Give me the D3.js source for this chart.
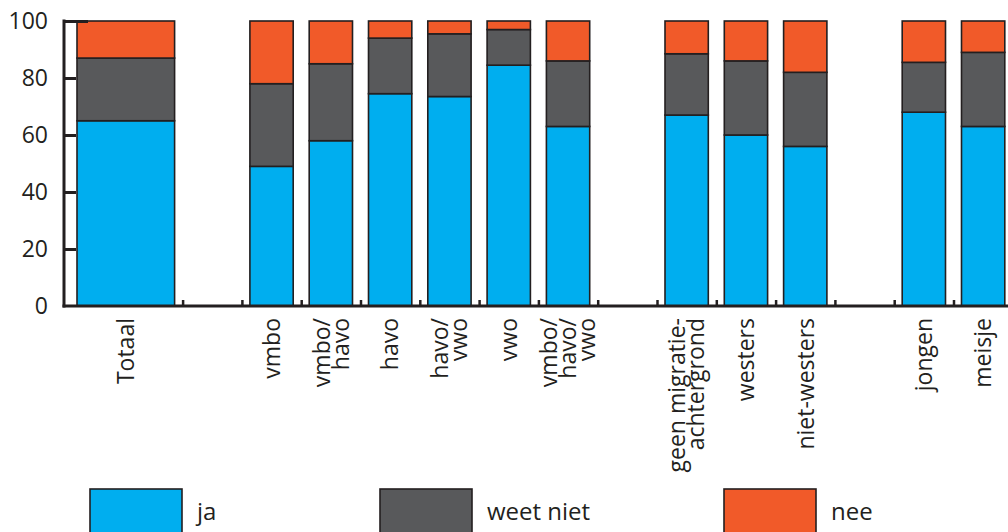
<!DOCTYPE html>
<html>
<head>
<meta charset="utf-8">
<script src="https://cdn.jsdelivr.net/npm/d3@7"></script>
<style>
  html, body { margin: 0; padding: 0; background: #fff; overflow: hidden; }
  svg { display: block; font-family: "Open Sans", "Noto Sans", sans-serif; }
</style>
</head>
<body>
<svg id="chart" width="1008" height="532"></svg>
<script>
// ---- data ----
const categories = ["Totaal","vmbo","vmbo/havo","havo","havo/vwo","vwo","vmbo/havo/vwo",
  "geen migratieachtergrond","westers","niet-westers","jongen","meisje"];
const tickLabels = ["Totaal","vmbo","vmbo/\nhavo","havo","havo/\nvwo","vwo","vmbo/\nhavo/\nvwo",
  "geen migratie-\nachtergrond","westers","niet-westers","jongen","meisje"];
const groupIndex = [0,1,1,1,1,1,1,2,2,2,3,3];
const ja       = [65, 49, 58, 74.5, 73.5, 84.5, 63, 67,   60, 56, 68,   63];
const weetNiet = [22, 29, 27, 19.5, 22,   12.5, 23, 21.5, 26, 26, 17.5, 26];
const nee      = [13, 22, 15, 6,    4.5,  3,    14, 11.5, 14, 18, 14.5, 11];
const seriesNames = ["ja","weet niet","nee"];
const yTicks = [0,20,40,60,80,100];

// ---- styles ----
const colors = {"ja":"#00aeef","weet niet":"#58595b","nee":"#f15a29"};
const ink = "#231f20";

// ---- layout: slots (Totaal spans two, one empty slot between groups) ----
const slotStart = [], slotSpan = [];
let s = 0;
categories.forEach((c,i) => {
  if (i > 0 && groupIndex[i] !== groupIndex[i-1]) s += 1;
  const span = i === 0 ? 2 : 1;
  slotStart.push(s); slotSpan.push(span); s += span;
});
const nSlots = s; // 16
const slotW = 59.3;
const x0 = 64;
const x = d3.scaleLinear().domain([0, nSlots]).range([x0, x0 + nSlots * slotW]);
const y = d3.scaleLinear().domain([0, 100]).range([306, 21]);

const rows = categories.map((c,i) => ({cat:c, i, "ja":ja[i], "weet niet":weetNiet[i], "nee":nee[i]}));
const stack = d3.stack().keys(seriesNames)(rows);

const svg = d3.select("#chart");

// bars
const pad = 8;
function barX(i){ return x(slotStart[i]) + pad + (slotSpan[i] > 1 ? 5 : 0); }
function barW(i){ return x(slotStart[i] + slotSpan[i]) - pad - barX(i); }

svg.append("g").selectAll("g").data(stack).join("g")
  .attr("fill", d => colors[d.key])
  .selectAll("rect").data(d => d).join("rect")
  .attr("x", d => barX(d.data.i))
  .attr("width", d => barW(d.data.i))
  .attr("y", d => y(d[1]))
  .attr("height", d => y(d[0]) - y(d[1]))
  .attr("stroke", ink).attr("stroke-width", 1.6);

// y axis
const yAxis = svg.append("g").attr("transform", `translate(${x0},0)`)
  .call(d3.axisLeft(y).tickValues(yTicks).tickSize(-12).tickPadding(16).tickFormat(d3.format("d")));
yAxis.select(".domain").attr("stroke", ink).attr("stroke-width", 3)
  .attr("d", `M0,${y(100)-1.5}V${y(0)+1.5}`);
yAxis.selectAll(".tick line").attr("stroke", ink).attr("stroke-width", 3)
  .attr("x2", d => d === 100 ? 24 : (d === 0 ? 0 : 12));
yAxis.selectAll(".tick text").attr("fill", ink).style("font-size", "23px")
  .style("font-family", "'Open Sans', sans-serif");

// x axis
const xTickVals = d3.range(2, nSlots);
const xAxis = svg.append("g").attr("transform", `translate(0,${y(0)})`)
  .call(d3.axisBottom(x).tickValues(xTickVals).tickSize(-6).tickFormat(""));
xAxis.select(".domain").attr("stroke", ink).attr("stroke-width", 3)
  .attr("d", `M${x0-1.5},0H1008`);
xAxis.selectAll(".tick line").attr("stroke", ink).attr("stroke-width", 2.5);

// category labels (rotated)
const lh = 19;
const labG = svg.append("g").selectAll("g").data(categories).join("g")
  .attr("transform", (c,i) => `translate(${barX(i) + barW(i)/2},318) rotate(-90)`);
labG.each(function(c,i){
  const lines = tickLabels[i].split("\n");
  const t = d3.select(this).append("text")
    .attr("text-anchor","end").attr("fill", ink)
    .style("font-size","23px");
  lines.forEach((ln,k) => {
    t.append("tspan").attr("x",0)
      .attr("y", -(lines.length-1)*lh/2 + k*lh)
      .attr("dy","0.36em").text(ln);
  });
});

// legend
const legendX = [90, 380, 724];
const leg = svg.append("g").selectAll("g").data(seriesNames).join("g")
  .attr("transform", (d,i) => `translate(${legendX[i]},489)`);
leg.append("rect").attr("width",92).attr("height",60)
  .attr("fill", d => colors[d]).attr("stroke", ink).attr("stroke-width",1.6);
leg.append("text").attr("x",107).attr("y",31).attr("fill",ink)
  .style("font-size","24px").text(d => d);
</script>
</body>
</html>
